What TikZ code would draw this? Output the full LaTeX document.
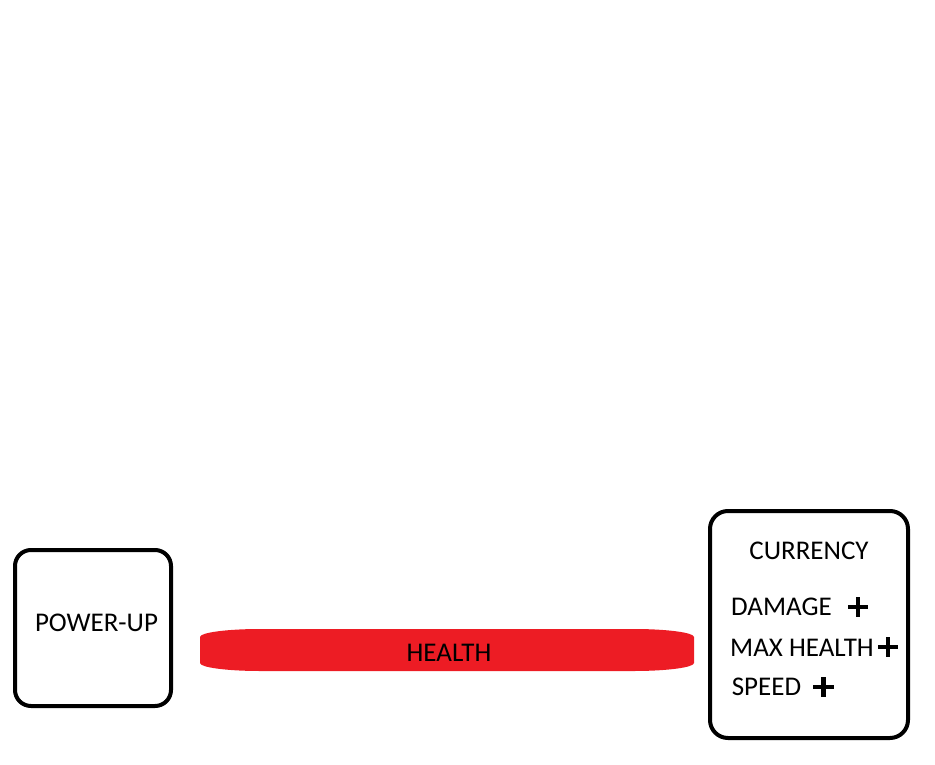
\documentclass[tikz,border=0pt]{standalone}
\usepackage{fontspec}
\setmainfont{Carlito}
\usepackage{xcolor}
\definecolor{barred}{HTML}{ED1C24}

\begin{document}
\begin{tikzpicture}[x=1pt,y=1pt]
	\tikzset{box/.style={line width=4pt,rounded corners=16pt},
		label text/.style={inner sep=0pt,anchor=base,font=\fontsize{27}{32}\selectfont},
		plus sign/.style={line width=4.5pt}}
	\useasboundingbox (0,0) rectangle (935,-765);

	% power-up box
	\draw[box] (15,-550) rectangle (171,-706);
	\node[label text] (powerup) at (96.5,-631) {POWER-UP};

	% health bar
	\fill[barred] (260,-629) -- (634,-629) arc[start angle=90,end angle=0,x radius=60pt,y radius=8pt]
		-- (694,-663) arc[start angle=0,end angle=-90,x radius=60pt,y radius=8pt]
		-- (260,-671) arc[start angle=-90,end angle=-180,x radius=60pt,y radius=8pt]
		-- (200,-637) arc[start angle=180,end angle=90,x radius=60pt,y radius=8pt] -- cycle;
	\node[label text] (health) at (449,-661) {HEALTH};

	% currency box
	\draw[box,rounded corners=18pt] (710,-511) rectangle (908,-738);
	\node[label text] (currency) at (809,-559) {CURRENCY};
	\node[label text] (damage) at (781.5,-615) {DAMAGE};
	\node[label text] (maxhealth) at (802,-656) {MAX HEALTH};
	\node[label text] (speed) at (766.5,-695) {SPEED};

	% plus signs
	\draw[plus sign] (848,-607) -- (868,-607) (858,-597) -- (858,-617);
	\draw[plus sign] (878,-647) -- (898,-647) (888,-637) -- (888,-657);
	\draw[plus sign] (813,-687) -- (834,-687) (823.5,-677) -- (823.5,-697);
\end{tikzpicture}
\end{document}
